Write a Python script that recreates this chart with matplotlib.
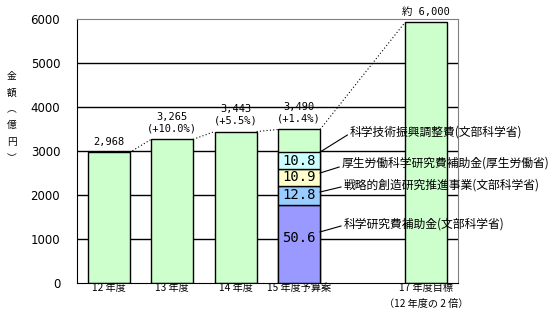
import matplotlib
matplotlib.use("Agg")
import matplotlib.pyplot as plt

plt.rcParams['font.family'] = ['Noto Sans CJK JP', 'DejaVu Sans']

# data
years = ["12 年度", "13 年度", "14 年度", "15 年度予算案", "", "17 年度目標\n（12 年度の 2 倍）"]
positions = [0, 1, 2, 3, 5]
totals = [2968, 3265, 3443, 3490, 5930]
top_labels = ["2,968", "3,265\n(+10.0%)", "3,443\n(+5.5%)", "3,490\n(+1.4%)", "約 6,000"]

# breakdown of the 15 budget (percent of total)
seg_names = ["科学研究費補助金(文部科学省)", "戦略的創造研究推進事業(文部科学省)",
             "厚生労働科学研究費補助金(厚生労働省)", "科学技術振興調整費(文部科学省)"]
seg_pct = [50.6, 12.8, 10.9, 10.8]
seg_colors = ["#9999ff", "#99ccff", "#ffffcc", "#ccffff"]

green = "#ccffcc"
width = 0.66
mono = ["DejaVu Sans Mono", "Noto Sans CJK JP"]

fig = plt.figure(figsize=(5.57, 3.13), dpi=100)
ax = fig.add_axes([0.138, 0.096, 0.684, 0.843])

for y in range(1000, 6000, 1000):
    ax.axhline(y, color="black", lw=1, zorder=0)

ax.bar(positions, totals, width=width, color=green, edgecolor="black", lw=1, zorder=2)

# stacked segments in the 15 bar
base = 0
for pct, col in zip(seg_pct, seg_colors):
    h = totals[3] * pct / 100
    ax.bar(3, h, bottom=base, width=width, color=col, edgecolor="black", lw=1, zorder=3)
    ax.text(3, base + h / 2 + (140 if pct > 50 else 0), f"{pct:.1f}", ha="center", va="center",
            fontsize=10, family=mono, zorder=5)
    base += h

# dotted line joining bar tops
for i in range(len(positions) - 1):
    ax.plot([positions[i] + width / 2, positions[i + 1] - width / 2],
            [totals[i], totals[i + 1]], color="black", ls=(0, (1, 2)), lw=0.8, zorder=1)

# value labels above bars
for p, t, lab in zip(positions, totals, top_labels):
    ax.text(p, t + 130, lab, ha="center", va="bottom", fontsize=7.5,
            family=mono, linespacing=1.25, zorder=5)

# leader lines and names for the breakdown
label_x = [3.70, 3.70, 3.67, 3.80]
label_y = [1340, 2227, 2727, 3432]
anchor_y = [1160, 2068, 2500, 2977]
end_y = [1295, 2182, 2636, 3364]
for name, lx, ly, ay, ey in zip(seg_names, label_x, label_y, anchor_y, end_y):
    ax.plot([3 + width / 2, lx - 0.04], [ay, ey], color="black", lw=0.8, zorder=4)
    ax.text(lx, ly, name, ha="left", va="center", fontsize=8.5, zorder=5)

ax.set_xlim(-0.5, 5.5)
ax.set_ylim(0, 6000)
ax.set_xticks(range(6))
ax.set_xticklabels(years, fontsize=7.3, linespacing=1.7)
ax.set_yticks(range(0, 7000, 1000))
ax.set_yticklabels([str(v) for v in range(0, 7000, 1000)], fontsize=8.5, family="DejaVu Sans")
ax.tick_params(axis="both", length=0)
ax.tick_params(axis="y", pad=12)
ax.tick_params(axis="x", pad=0)

for s in ["top", "right"]:
    ax.spines[s].set_color("#808080")
for s in ["left", "bottom"]:
    ax.spines[s].set_color("black")

fig.text(12 / 557, 1 - 117 / 313, "金\n額\n︵\n億\n円\n︶", ha="center", va="center",
         fontsize=7, linespacing=1.8)

fig.savefig("out.png", dpi=100)
